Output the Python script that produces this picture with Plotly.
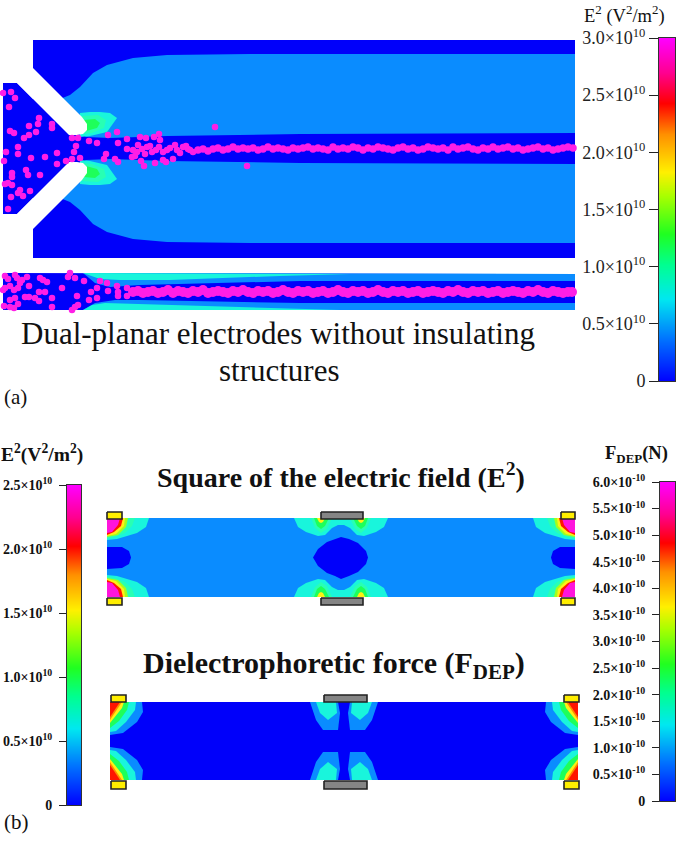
import plotly.graph_objects as go

# ---------- colour levels of the contour maps ----------
BLUE = "#0000fa"
LBLUE = "#0a8cff"
CYAN = "#19f5dc"
TEAL = "#28ffb4"
GREEN = "#1eff5a"
LIME = "#a0ff1e"
YELLOW = "#fff014"
ORANGE = "#ff8c00"
RED = "#ff1400"
MAGENTA = "#ff14dc"
PARTICLE = "#ff1ee6"

RAMP = [[0, "#0000ff"], [0.12, "#0070ff"], [0.24, "#00e8f0"], [0.34, "#00ff90"], [0.43, "#20ff20"],
        [0.54, "#a8ff00"], [0.61, "#fff000"], [0.72, "#ff9000"], [0.81, "#ff0000"], [0.90, "#ff0090"], [1, "#ff00ff"]]

# ---------- panel (a), upper view: outlines in image units ----------
A_MAIN = [(33, 40), (575, 40), (575, 258), (33, 258)]
A_INLET = [(3, 83), (17, 83), (70, 136), (78, 136), (78, 161), (70, 161), (17, 214), (3, 214)]
A_UP_LB = [(60, 99), (70, 95), (80, 87), (93, 73), (107, 65), (133, 58), (167, 55), (250, 54), (575, 54),
           (575, 133), (300, 134), (167, 136), (110, 138), (86, 137), (75, 130)]
A_UP_CY = [(80, 113), (90, 112), (100, 112), (110, 113), (117, 118), (112, 125), (107, 132), (90, 136), (80, 137)]
A_UP_TE = [(82, 116), (98, 115), (106, 120), (104, 128), (92, 133), (82, 134)]
A_UP_GR = [(84, 120), (95, 119), (100, 123), (97, 128), (86, 131)]
A_ARM = [(33, 68), (82, 117), (87, 124), (87, 130), (83, 134), (77, 135), (69, 135), (17, 83)]
A_MID = 148.5

A_PX = [3, 11, 15, 9, 39, 38, 29, 52, 52, 36, 10, 14, 29, 24, 18, 6, 18, 31, 45, 57, 4, 66, 57, 26, 28, 12, 12, 40,
        5, 8, 12, 30, 20, 18, 23, 11, 8,
        72, 78, 76, 74, 72, 80, 89, 97, 108, 117, 118, 127, 106, 104, 115, 118, 127, 133, 138, 137, 147, 145, 132,
        135, 152, 159, 154, 159, 160, 146, 140, 141, 144, 155, 163, 166, 173, 215, 247, 167, 175, 177, 183, 188, 193,
        142, 150, 156, 163, 170, 180, 186, 190]
A_PY = [93, 92, 98, 107, 118, 124, 126, 124, 128, 132, 131, 133, 135, 138, 147, 152, 154, 158, 157, 153, 161, 161,
        164, 170, 175, 173, 177, 175, 184, 183, 185, 191, 190, 193, 196, 197, 209,
        138, 138, 146, 152, 159, 158, 141, 143, 135, 132, 143, 139, 154, 159, 159, 162, 149, 150, 145, 152, 147, 154,
        157, 156, 152, 147, 137, 134, 140, 138, 137, 161, 166, 163, 160, 162, 159, 127, 166, 150, 145, 150, 147, 149, 152,
        149, 146, 150, 152, 148, 153, 146, 150]
A_LX = [198, 203, 208, 213, 218, 223, 228, 233, 238, 243, 248, 253, 258, 263, 268, 273, 278, 283, 288, 293, 298, 303,
        308, 313, 318, 323, 328, 333, 338, 343, 348, 353, 358, 363, 368, 373, 378, 383, 388, 393, 398, 403, 408, 413,
        418, 423, 428, 433, 438, 443, 448, 453, 458, 463, 468, 473, 478, 483, 488, 493, 498, 503, 508, 513, 518, 523,
        528, 533, 538, 543, 548, 553, 558, 563, 568, 573]
A_LY = [150, 149, 151, 149, 148, 150, 149, 147, 149, 148, 149, 148, 150, 149, 147, 149, 148, 149, 150, 148, 149, 148,
        147, 149, 148, 149, 150, 147, 149, 148, 149, 147, 148, 150, 148, 149, 147, 148, 149, 150, 148, 147, 149, 148,
        150, 149, 147, 148, 149, 148, 150, 147, 149, 148, 147, 149, 150, 148, 149, 147, 149, 148, 147, 149, 148, 150,
        149, 148, 147, 149, 148, 150, 149, 148, 147, 148]

# ---------- panel (a), lower view ----------
B_MAIN = [(3, 273), (575, 274), (575, 310), (3, 310)]
B_TOP_LB = [(83, 273), (575, 274), (575, 281), (300, 281), (140, 285), (110, 287), (95, 283)]
B_TOP_CY = [(83, 273), (350, 274), (280, 276), (170, 280), (120, 280), (100, 279)]
B_BOT_LB = [(83, 310), (95, 303), (115, 300), (140, 300), (300, 303), (575, 303), (575, 310)]
B_BOT_CY = [(83, 310), (92, 305), (105, 303), (170, 305), (290, 309), (340, 310)]
B_PX = [5, 15, 8, 17, 22, 27, 20, 18, 29, 40, 43, 47, 70, 68, 75, 84, 10, 5, 3, 62, 39, 25, 29, 35, 39, 52, 77, 97,
        100, 107, 91, 108, 97, 89, 117, 118, 118, 127, 127, 10, 15, 18, 10, 14, 4, 52, 72, 75, 78, 45, 14]
B_PY = [276, 275, 279, 278, 280, 277, 283, 288, 286, 278, 280, 282, 273, 277, 278, 281, 286, 288, 290, 288, 292, 297,
        297, 298, 301, 298, 296, 288, 281, 283, 292, 291, 298, 300, 286, 292, 296, 288, 296, 300, 298, 304, 307, 308,
        306, 307, 310, 307, 305, 292, 290]
B_LX = [133, 138, 143, 148, 153, 158, 163, 168, 173, 178, 183, 188, 193, 198, 203, 208, 213, 218, 223, 228, 233, 238,
        243, 248, 253, 258, 263, 268, 273, 278, 283, 288, 293, 298, 303, 308, 313, 318, 323, 328, 333, 338, 343, 348,
        353, 358, 363, 368, 373, 378, 383, 388, 393, 398, 403, 408, 413, 418, 423, 428, 433, 438, 443, 448, 453, 458,
        463, 468, 473, 478, 483, 488, 493, 498, 503, 508, 513, 518, 523, 528, 533, 538, 543, 548, 553, 558, 563, 568, 572]
B_LY = [292, 291, 293, 292, 291, 293, 292, 290, 293, 291, 292, 293, 291, 292, 290, 293, 292, 291, 292, 293, 291, 292,
        290, 292, 293, 291, 292, 291, 293, 292, 290, 292, 293, 291, 292, 291, 293, 292, 291, 293, 292, 290, 292, 293,
        291, 292, 291, 293, 292, 290, 292, 293, 291, 292, 291, 293, 292, 291, 293, 292, 291, 292, 293, 291, 292, 290,
        292, 293, 291, 292, 291, 293, 292, 291, 293, 292, 291, 292, 293, 291, 292, 290, 292, 293, 291, 292, 293, 292, 292]

# ---------- panel (b), E^2 map ----------
C_MAIN = [(107, 518), (575, 518), (575, 597), (107, 597)]
C_CX, C_CY = 341, 557.5
C_CORNER = [
    (CYAN, [(107, 518), (149, 518), (146, 527), (137, 533), (127, 536), (117, 539), (107, 540)]),
    (TEAL, [(107, 518), (135, 518), (132, 526), (125, 533), (115, 537), (107, 538.5)]),
    (LIME, [(107, 518), (128, 518), (126, 527), (118, 535), (107, 537)]),
    (YELLOW, [(107, 518), (125, 518), (124, 526), (116, 534), (107, 536)]),
    (RED, [(107, 518), (123, 518), (121, 526), (114, 532), (107, 535)]),
    (MAGENTA, [(107, 518), (120, 518), (118, 525), (112, 532), (107, 533)]),
]
C_CENTER_CY = [(294, 518), (298, 527), (306, 532), (318, 536), (325, 535), (332, 528), (338, 525), (344, 525), (350, 528),
               (357, 535), (364, 536), (376, 532), (384, 527), (388, 518)]
C_LOBE = [(TEAL, [(311, 518), (315, 528), (321, 533), (327, 529), (332, 518)]),
          (GREEN, [(314, 518), (317, 526), (321, 529), (325, 526), (329, 518)]),
          (YELLOW, [(317, 518), (319, 522), (321, 523), (323, 522), (325, 518)])]
C_SIDE_BLUE = [(107, 547), (122, 547), (129, 551), (131, 557.5), (129, 564), (122, 568), (107, 569)]
C_MID_BLUE = [(313, 557.5), (318, 549), (327, 542), (335, 539), (341, 537), (349, 539), (358, 543), (366, 551), (368, 557.5),
              (366, 564), (358, 572), (349, 576), (341, 579), (335, 576), (327, 573), (318, 566)]

# ---------- panel (b), force map ----------
D_MAIN = [(110, 702), (578, 702), (578, 780), (110, 780)]
D_CX, D_CY = 344, 741
D_CORNER = [
    (LBLUE, [(110, 702), (142, 702), (143, 712), (137, 722), (123, 733), (110, 735)]),
    (CYAN, [(110, 702), (136, 702), (135, 710), (126, 722), (116, 731), (110, 732)]),
    (GREEN, [(110, 702), (129, 702), (127, 710), (119, 721), (110, 728)]),
    (YELLOW, [(110, 702), (124, 702), (122, 708), (110, 723)]),
    (ORANGE, [(110, 702), (122, 702), (110, 720)]),
    (RED, [(110, 702), (120, 702), (110, 717)]),
]
D_LOBE = [(LBLUE, [(310, 702), (316, 720), (323, 730), (338, 730), (340, 713), (338, 702)]),
          (CYAN, [(316, 702), (320, 713), (328, 720), (337, 713), (336, 702)])]

# ---------- electrodes ----------
YELLOW_PADS = [(107, 512, 122, 519), (107, 598, 122, 605), (561, 512, 575, 519), (561, 598, 575, 605),
               (111, 695, 126, 702), (111, 781, 126, 789), (564, 695, 579, 702), (564, 781, 579, 789)]
GRAY_PADS = [(321, 512, 363, 519), (321, 598, 363, 605), (324, 695, 367, 702), (324, 781, 367, 789)]

# ---------- colour bars ----------
A_TICKS = [0, 0.5e10, 1.0e10, 1.5e10, 2.0e10, 2.5e10, 3.0e10]
A_LABELS = ["0", "0.5×10<sup>10</sup>", "1.0×10<sup>10</sup>", "1.5×10<sup>10</sup>", "2.0×10<sup>10</sup>",
            "2.5×10<sup>10</sup>", "3.0×10<sup>10</sup>"]
E_TICKS = [0, 0.5e10, 1.0e10, 1.5e10, 2.0e10, 2.5e10]
E_LABELS = [f"<b>{s}</b>" for s in A_LABELS[:6]]
F_TICKS = [0, 0.5e-10, 1.0e-10, 1.5e-10, 2.0e-10, 2.5e-10, 3.0e-10, 3.5e-10, 4.0e-10, 4.5e-10, 5.0e-10, 5.5e-10, 6.0e-10]
F_LABELS = ["<b>0</b>"] + [f"<b>{v}×10<sup>-10</sup></b>" for v in
                           ["0.5", "1.0", "1.5", "2.0", "2.5", "3.0", "3.5", "4.0", "4.5", "5.0", "5.5", "6.0"]]

W, H = 676, 842
fig = go.Figure()


def poly(pts, color, line=None, lw=0):
    xs = [p[0] for p in pts]
    ys = [p[1] for p in pts]
    fig.add_trace(go.Scatter(x=xs + xs[:1], y=ys + ys[:1], mode="lines", fill="toself", fillcolor=color,
                             line=dict(color=line or color, width=lw), hoverinfo="skip", showlegend=False))


def my(pts, c):
    return [(x, 2 * c - y) for x, y in pts]


def mx(pts, c):
    return [(2 * c - x, y) for x, y in pts]


def four(pts, color, cx, cy):
    for p in (pts, my(pts, cy), mx(pts, cx), mx(my(pts, cy), cx)):
        poly(p, color)


# panel (a) upper
poly(A_MAIN, BLUE)
poly(A_INLET, BLUE)
for reg, col in ((A_UP_LB, LBLUE), (A_UP_CY, CYAN), (A_UP_TE, TEAL), (A_UP_GR, GREEN)):
    poly(reg, col)
    poly(my(reg, A_MID), col)
poly(A_ARM, "white")
poly(my(A_ARM, A_MID), "white")

# panel (a) lower
poly(B_MAIN, BLUE)
for reg, col in ((B_TOP_LB, LBLUE), (B_TOP_CY, CYAN), (B_BOT_LB, LBLUE), (B_BOT_CY, CYAN)):
    poly(reg, col)

# particles
fig.add_trace(go.Scatter(x=A_PX + B_PX, y=A_PY + B_PY, mode="markers", hoverinfo="skip", showlegend=False,
                         marker=dict(color=PARTICLE, size=6.5, line=dict(width=0))))
fig.add_trace(go.Scatter(x=A_LX, y=A_LY, mode="markers", hoverinfo="skip", showlegend=False,
                         marker=dict(color=PARTICLE, size=7.5, line=dict(width=0))))
fig.add_trace(go.Scatter(x=B_LX, y=B_LY, mode="markers", hoverinfo="skip", showlegend=False,
                         marker=dict(color=PARTICLE, size=10, line=dict(width=0))))

# panel (b) E^2
poly(C_MAIN, LBLUE)
for col, reg in C_CORNER:
    four(reg, col, C_CX, C_CY)
poly(C_CENTER_CY, CYAN)
poly(my(C_CENTER_CY, C_CY), CYAN)
for col, reg in C_LOBE:
    four(reg, col, C_CX, C_CY)
poly(C_SIDE_BLUE, BLUE)
poly(mx(C_SIDE_BLUE, C_CX), BLUE)
poly(C_MID_BLUE, BLUE)

# panel (b) force
poly(D_MAIN, BLUE)
for col, reg in D_CORNER:
    four(reg, col, D_CX, D_CY)
for col, reg in D_LOBE:
    four(reg, col, D_CX, D_CY)

# electrodes
for pads, col in ((YELLOW_PADS, "#ffee00"), (GRAY_PADS, "#858585")):
    for x0, y0, x1, y1 in pads:
        poly([(x0, y0), (x1, y0), (x1, y1), (x0, y1)], col, line="#222222", lw=1.6)

fig.update_layout(
    width=W, height=H, margin=dict(l=0, r=0, t=0, b=0, autoexpand=False), paper_bgcolor="white", plot_bgcolor="white",
    xaxis=dict(domain=[0, 1], range=[0, W], visible=False, fixedrange=True, automargin=False),
    yaxis=dict(domain=[0, 1], range=[H, 0], visible=False, fixedrange=True, automargin=False),
)


def bar(n, x0, x1, y0, y1, zmax, ticks, labels, font, ticklen, standoff):
    ax = f"x{n}", f"y{n}"
    fig.add_trace(go.Heatmap(x=[0, 1], y=[0, zmax], z=[[0, 0], [zmax, zmax]], zmin=0, zmax=zmax, zsmooth="best",
                             colorscale=RAMP, showscale=False, xaxis=ax[0], yaxis=ax[1], hoverinfo="skip"))
    fig.layout[f"xaxis{n}"] = dict(domain=[x0 / W, x1 / W], range=[0, 1], showticklabels=False, ticks="",
                                   showgrid=False, zeroline=False, showline=True, mirror=True, automargin=False,
                                   linecolor="#333333", linewidth=1, anchor=ax[1], fixedrange=True)
    fig.layout[f"yaxis{n}"] = dict(domain=[1 - y1 / H, 1 - y0 / H], range=[0, zmax], tickmode="array", tickvals=ticks,
                                   ticktext=labels, ticks="outside", ticklen=ticklen, tickwidth=1.2, tickcolor="#222222",
                                   tickfont=font, showgrid=False, zeroline=False, showline=True, mirror=True,
                                   automargin=False, ticklabelstandoff=standoff,
                                   linecolor="#333333", linewidth=1, anchor=ax[0], fixedrange=True)


bar(2, 659, 675, 38, 381, 3.0e10, A_TICKS, A_LABELS, dict(family="Liberation Serif", size=18, color="#222222"), 9, 0)
bar(3, 67, 81, 485, 805, 2.5e10, E_TICKS, E_LABELS, dict(family="Liberation Serif", size=14, color="#111111"), 7, 4)
bar(4, 660, 675, 482, 801, 6.0e-10, F_TICKS, F_LABELS, dict(family="Liberation Serif", size=14, color="#111111"), 7, 4)


def text(s, x, y, size, bold=False, anchor="center"):
    fig.add_annotation(text=f"<b>{s}</b>" if bold else s, x=x, y=y, xref="x", yref="y", showarrow=False,
                       xanchor=anchor, yanchor="middle",
                       font=dict(family="Liberation Serif", size=size, color="#111111"))


text("Dual-planar electrodes without insulating", 278, 333, 31)
text("structures", 279, 370, 31)
text("(a)", 2, 397, 21, anchor="left")
text("(b)", 2, 822, 21, anchor="left")
text("E<sup>2</sup> (V<sup>2</sup>/m<sup>2</sup>)", 624, 14, 18.5)
text("E<sup>2</sup>(V<sup>2</sup>/m<sup>2</sup>)", 42, 453, 19.5, bold=True)
text("Square of the electric field (E<sup>2</sup>)", 341, 475, 28, bold=True)
text("Dielectrophoretic force (F<sub>DEP</sub>)", 334, 665, 30, bold=True)
text("F<sub>DEP</sub>(N)", 636, 454, 18.5, bold=True)

fig.write_html("out.html", post_script="document.body.style.margin='0';",
               config=dict(displayModeBar=False))
